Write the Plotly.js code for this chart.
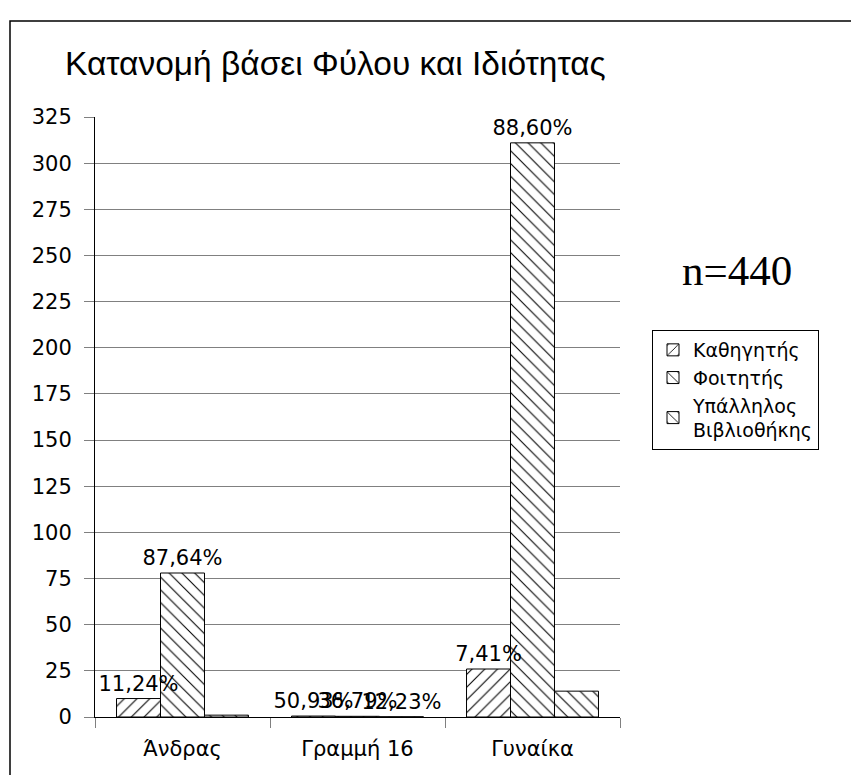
<!DOCTYPE html>
<html>
<head>
<meta charset="utf-8">
<script src="https://cdn.plot.ly/plotly-3.0.1.min.js"></script>
<style>html,body{margin:0;padding:0;background:#fff;}#chart{width:851px;height:775px;}</style>
</head>
<body>
<div id="chart"></div>
<script>
const categories = ["Άνδρας", "Γραμμή 16", "Γυναίκα"];
const seriesNames = ["Καθηγητής", "Φοιτητής", "Υπάλληλος<br>Βιβλιοθήκης"];
const professorValues = [10, 0.5093, 26];
const studentValues = [78, 0.3679, 311];
const staffValues = [1, 0.1223, 14];
const professorLabels = ["11,24%", "50,93%", "7,41%"];
const studentLabels = ["87,64%", "36,79%", "88,60%"];
const staffLabels = ["", "12,23%", ""];
const yTicks = [0, 25, 50, 75, 100, 125, 150, 175, 200, 225, 250, 275, 300, 325];
const sampleNote = "n=440";
const chartTitle = "Κατανομή βάσει Φύλου και Ιδιότητας";

function bar(name, y, shape, group) {
  return {
    type: "bar", name: name, x: categories, y: y, offsetgroup: group,
    hoverinfo: "none",
    marker: {
      color: "#fff",
      line: {color: "#000", width: 1},
      pattern: {shape: shape, fgcolor: "#000", bgcolor: "#fff", size: 9, solidity: 0.12}
    }
  };
}
function labels(y, text, group) {
  return {
    type: "bar", x: categories, y: y, text: text, offsetgroup: group,
    textposition: "outside", cliponaxis: false, constraintext: "none",
    textfont: {family: "DejaVu Sans", size: 21, color: "#000"},
    hoverinfo: "none", showlegend: false,
    marker: {color: "rgba(0,0,0,0)", line: {width: 0}}
  };
}

const data = [
  bar(seriesNames[0], professorValues, "/", "a"),
  bar(seriesNames[1], studentValues, "\\", "b"),
  bar(seriesNames[2], staffValues, "\\", "c"),
  labels(professorValues, professorLabels, "a"),
  labels(studentValues, studentLabels, "b"),
  labels(staffValues, staffLabels, "c")
];

const layout = {
  width: 851, height: 775,
  margin: {l: 95, r: 231, t: 117, b: 58},
  paper_bgcolor: "#fff", plot_bgcolor: "#fff",
  barmode: "group", bargap: 0.246, bargroupgap: 0,
  showlegend: true,
  title: {
    text: chartTitle, xref: "container", yref: "container",
    x: 65/851, xanchor: "left", y: 1 - 63/775, yanchor: "middle",
    font: {family: "Liberation Sans", size: 33.5, color: "#000"}
  },
  xaxis: {
    type: "category", showgrid: false, showline: true, linecolor: "#000", linewidth: 1,
    ticks: "outside", tickson: "boundaries", ticklen: 10, tickcolor: "#808080",
    tickfont: {family: "DejaVu Sans", size: 21, color: "#000"},
    ticklabelstandoff: 13, zeroline: false
  },
  yaxis: {
    range: [0, 325], tickvals: yTicks, showgrid: true, gridcolor: "#808080", gridwidth: 1,
    showline: true, linecolor: "#000", linewidth: 1,
    ticks: "outside", ticklen: 10, tickcolor: "#808080",
    tickfont: {family: "DejaVu Sans", size: 21, color: "#000"},
    ticklabelstandoff: 8, zeroline: false
  },
  legend: {
    xref: "container", yref: "container",
    x: 652/851, xanchor: "left", y: 1 - 330/775, yanchor: "top",
    bordercolor: "#000", borderwidth: 1, bgcolor: "#fff",
    font: {family: "DejaVu Sans", size: 19, color: "#000"},
    tracegroupgap: 2
  },
  annotations: [{
    text: sampleNote, xref: "paper", yref: "paper",
    x: (737-95)/525, y: (717-270)/600, xanchor: "center", yanchor: "middle",
    showarrow: false, font: {family: "Liberation Serif", size: 43, color: "#000"}
  }],
  shapes: [{
    type: "rect", xref: "paper", yref: "paper", layer: "below",
    x0: (10-95)/525, x1: (860-95)/525, y0: (717-785)/600, y1: (717-21)/600,
    line: {color: "#000", width: 1.5}, fillcolor: "rgba(0,0,0,0)"
  }]
};

Plotly.newPlot("chart", data, layout, {displayModeBar: false, staticPlot: true});
</script>
</body>
</html>
